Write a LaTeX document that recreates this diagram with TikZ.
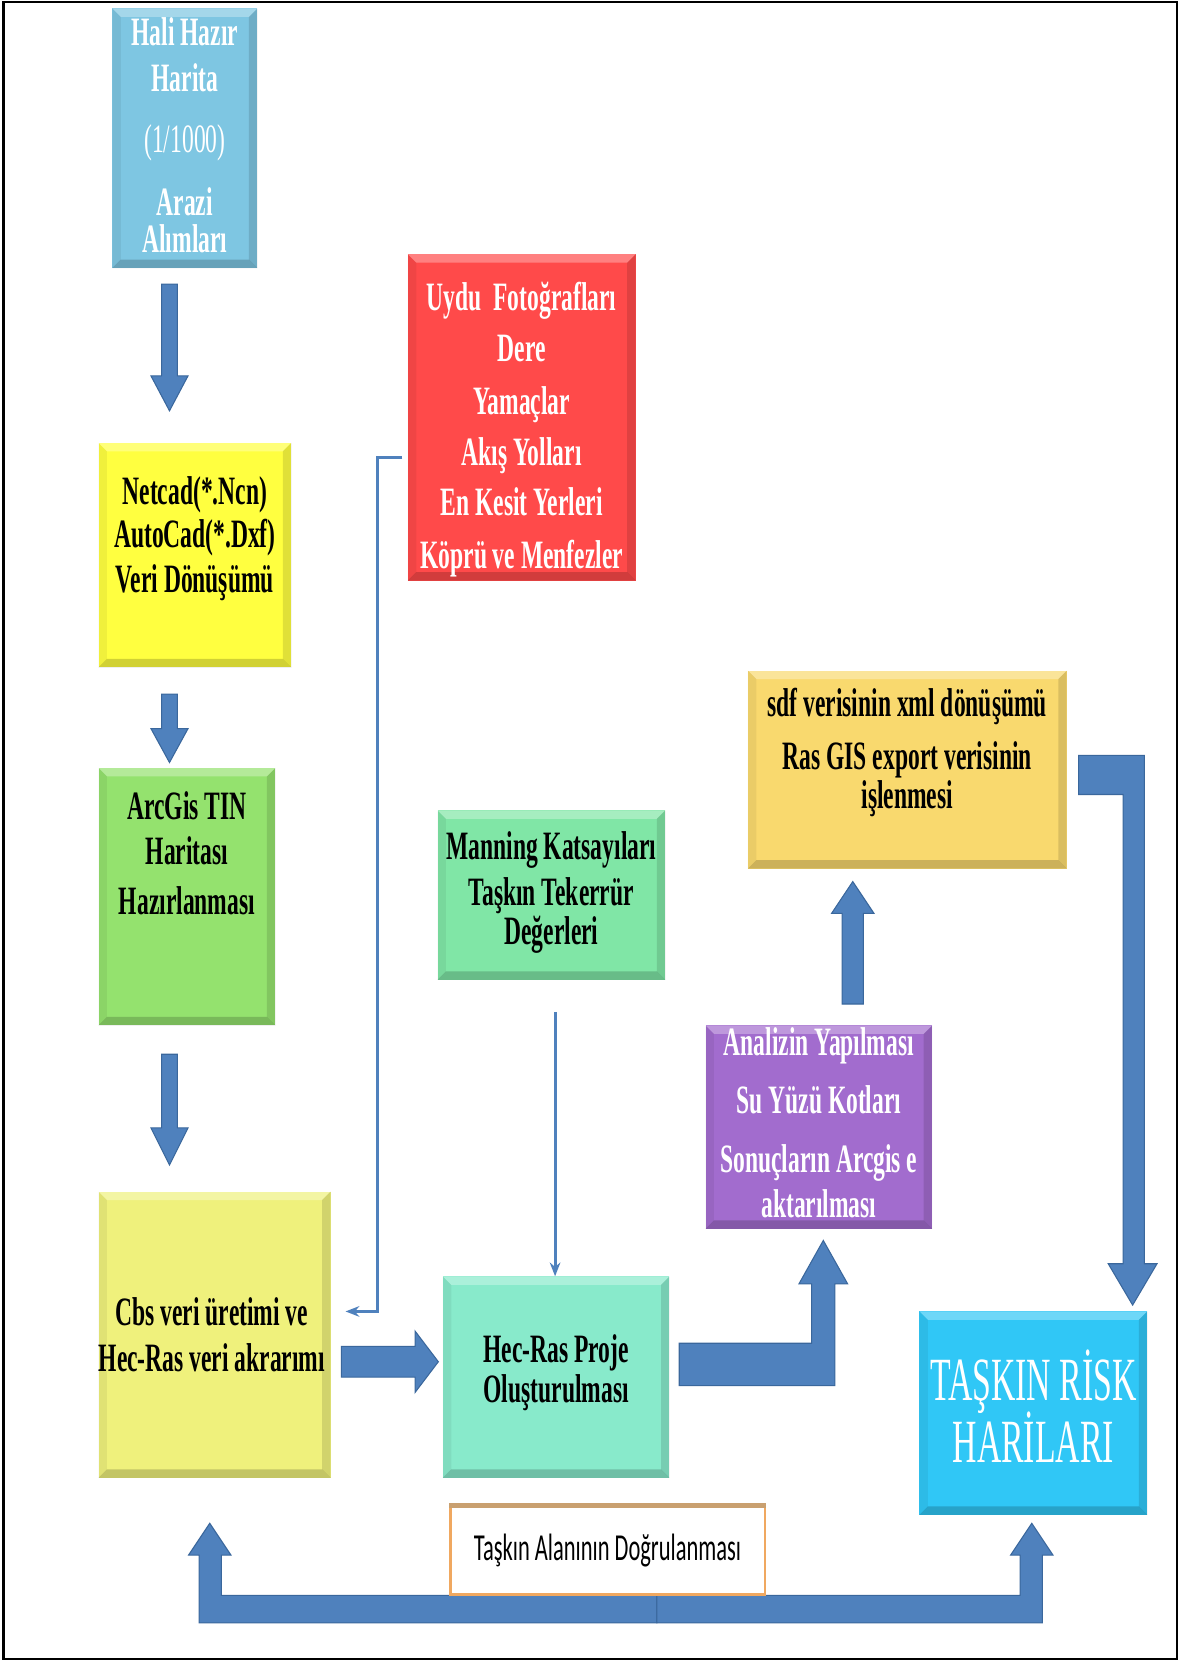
\documentclass[tikz,border=0pt]{standalone}
\usepackage{fontspec}
\setmainfont{Liberation Serif}
\newfontfamily\csf{Liberation Serif}[FakeStretch=0.585]
\newfontfamily\tkf{Liberation Serif}[FakeStretch=0.55]
\newfontfamily\clf{Carlito}[FakeStretch=0.59]
\usetikzlibrary{calc,arrows.meta}
\definecolor{arrowblue}{HTML}{4F81BD}
\definecolor{arrowedge}{HTML}{3A679C}
\definecolor{cblue}{HTML}{7EC6E2}
\definecolor{cyel}{HTML}{FFFF40}
\definecolor{cgreen}{HTML}{94E26E}
\definecolor{ckhaki}{HTML}{EFF17C}
\definecolor{cred}{HTML}{FF4A4A}
\definecolor{cmint}{HTML}{80E6A6}
\definecolor{caqua}{HTML}{88EACB}
\definecolor{cpurp}{HTML}{A26CCE}
\definecolor{corange}{HTML}{F9D96E}
\definecolor{csky}{HTML}{30C7F6}
\definecolor{cborder}{HTML}{F0A860}
\definecolor{cband}{HTML}{C9A070}
\tikzset{
  bevel/.style={path picture={
    \fill[white,opacity=.30] (path picture bounding box.north west) -- (path picture bounding box.north east) -- ([shift={(-8pt,-8pt)}]path picture bounding box.north east) -- ([shift={(8pt,-8pt)}]path picture bounding box.north west) -- cycle;
    \fill[black,opacity=.18] (path picture bounding box.south west) -- (path picture bounding box.south east) -- ([shift={(-8pt,8pt)}]path picture bounding box.south east) -- ([shift={(8pt,8pt)}]path picture bounding box.south west) -- cycle;
    \fill[black,opacity=.06] (path picture bounding box.north west) -- (path picture bounding box.south west) -- ([shift={(8pt,8pt)}]path picture bounding box.south west) -- ([shift={(8pt,-8pt)}]path picture bounding box.north west) -- cycle;
    \fill[black,opacity=.12] (path picture bounding box.north east) -- (path picture bounding box.south east) -- ([shift={(-8pt,8pt)}]path picture bounding box.south east) -- ([shift={(-8pt,-8pt)}]path picture bounding box.north east) -- cycle;
  }},
  box/.style={rectangle, inner sep=0pt, draw=none, fill=#1, bevel},
  dt/.style={anchor=base, inner sep=0pt, text=black, font=\csf\bfseries\fontsize{38}{44}\selectfont},
  wt/.style={dt, text=white},
  wtr/.style={anchor=base, inner sep=0pt, text=white, font=\csf\fontsize{38}{44}\selectfont},
  bigt/.style={anchor=base, inner sep=0pt, text=white, font=\tkf\fontsize{58}{64}\selectfont},
  blk/.style={fill=arrowblue, draw=arrowedge, line width=1pt, line join=miter},
  thinarr/.style={draw=arrowblue, line width=2.8pt, -{Stealth[length=13pt,width=10pt]}},
}
\newcommand\dnblk[5]{\filldraw[blk] ($(#1)+(-#3,0)$) -- ($(#1)+(#3,0)$) -- ($(#2)+(#3,-#5)$) -- ($(#2)+(#4,-#5)$) -- (#2) -- ($(#2)+(-#4,-#5)$) -- ($(#2)+(-#3,-#5)$) -- cycle;}
\newcommand\upblk[5]{\filldraw[blk] ($(#1)+(-#3,0)$) -- ($(#1)+(#3,0)$) -- ($(#2)+(#3,#5)$) -- ($(#2)+(#4,#5)$) -- (#2) -- ($(#2)+(-#4,#5)$) -- ($(#2)+(-#3,#5)$) -- cycle;}
\newcommand\rtblk[5]{\filldraw[blk] ($(#1)+(0,-#3)$) -- ($(#2)+(-#5,-#3)$) -- ($(#2)+(-#5,-#4)$) -- (#2) -- ($(#2)+(-#5,#4)$) -- ($(#2)+(-#5,#3)$) -- ($(#1)+(0,#3)$) -- cycle;}
\begin{document}
\begin{tikzpicture}[x=1pt,y=-1pt]
\useasboundingbox (0,0) rectangle (1113,1568);
\fill[white] (0,0) rectangle (1113,1568);

% ---------- boxes ----------
\node[box=cblue,   minimum width=137pt, minimum height=245pt] (b1) at (174.5,130.5) {};
\node[box=cyel,    minimum width=182pt, minimum height=212pt] (b2) at (184,524) {};
\node[box=cgreen,  minimum width=167pt, minimum height=243pt] (b3) at (176.5,846.5) {};
\node[box=ckhaki,  minimum width=219pt, minimum height=270pt] (b4) at (202.5,1260) {};
\node[box=cred,    minimum width=215pt, minimum height=308pt] (b5) at (492.5,394) {};
\node[box=cmint,   minimum width=215pt, minimum height=160pt] (b6) at (520.5,845) {};
\node[box=caqua,   minimum width=214pt, minimum height=190pt] (b7) at (525,1300) {};
\node[box=cpurp,   minimum width=214pt, minimum height=192pt] (b8) at (773,1064) {};
\node[box=corange, minimum width=301pt, minimum height=187pt] (b9) at (856.5,726.5) {};
\node[box=csky,    minimum width=215pt, minimum height=192pt] (b10) at (975.5,1334) {};

% ---------- bottom double arrow ----------
\begin{scope}[shift={(573.5,1505)}]
\filldraw[blk] (46.5,1) -- (-364.5,1) -- (-364.5,-37) -- (-355.5,-37) -- (-375.5,-67) -- (-395.5,-37) -- (-385.5,-37) -- (-385.5,27) -- (46.5,27) -- cycle;
\filldraw[blk] (46.5,1) -- (389.5,1) -- (389.5,-37) -- (380.5,-37) -- (400.5,-67) -- (420.5,-37) -- (410.5,-37) -- (410.5,27) -- (46.5,27) -- cycle;
\end{scope}
\node[draw=cborder, line width=2.5pt, fill=white, inner sep=0pt, minimum width=297pt, minimum height=85pt] (b11) at (573.5,1462.5) {};
\fill[cband] (b11.north west) rectangle ($(b11.north east)+(0,5)$);

% ---------- straight block arrows ----------
\coordinate (a1s) at ($(b1.south)+(-14.5,15)$);
\coordinate (a1e) at ($(b2.north)+(-24,-30)$);
\dnblk{a1s}{a1e}{7.5}{17.5}{33}
\coordinate (a2s) at ($(b2.south)+(-24,25)$);
\coordinate (a2e) at ($(b3.north)+(-16.5,-5)$);
\dnblk{a2s}{a2e}{7.5}{17.5}{32}
\coordinate (a3s) at ($(b3.south)+(-16.5,27)$);
\coordinate (a3e) at ($(b4.north)+(-42.5,-25)$);
\dnblk{a3s}{a3e}{7.5}{17.5}{35}
\coordinate (a4s) at ($(b4.east)+(10,25.5)$);
\coordinate (a4e) at ($(b7.west)+(-4,-14.5)$);
\rtblk{a4s}{a4e}{14.5}{29}{22}
\coordinate (a6s) at ($(b8.north)+(32,-20)$);
\coordinate (a6e) at ($(b9.south)+(-51.5,12)$);
\upblk{a6s}{a6e}{10}{20}{30}

% ---------- bent block arrows ----------
\begin{scope}[shift={(b7.east)}]
\filldraw[blk] (9,-32) -- (134,-32) -- (134,-88) -- (122,-88) -- (145,-129) -- (168,-88) -- (156,-88) -- (156,8) -- (9,8) -- cycle;
\end{scope}
\begin{scope}[shift={(b9.east)}]
\filldraw[blk] (11,-13.5) -- (73,-13.5) -- (73,466.5) -- (85,466.5) -- (62,505.5) -- (39,466.5) -- (53,466.5) -- (53,23.5) -- (11,23.5) -- cycle;
\end{scope}

% ---------- thin connectors ----------
\coordinate (c1s) at ($(b5.west)+(-5,38)$);
\coordinate (c1e) at ($(b4.east)+(14,-22)$);
\draw[thinarr] (c1s) -- ++(-23,0) coordinate (c1k) -- (c1k |- c1e) -- (c1e);
\coordinate (c2s) at ($(b6.south)+(3.5,30)$);
\draw[thinarr] (c2s) -- (c2s |- b7.north);

% ---------- texts ----------
\node[wt] (t1a) at (174.5,42.5) {Hali Hazır};
\node[wt] (t1b) at (174.5,86.5) {Harita};
\node[wtr] (t1c) at (174.5,143.5) {(1/1000)};
\node[wt] (t1d) at (174.5,203.5) {Arazi};
\node[wt] (t1e) at (174.5,238.5) {Alımları};

\node[dt] (t2a) at (184,476.5) {Netcad(*.Ncn)};
\node[dt] (t2b) at (184,516.5) {AutoCad(*.Dxf)};
\node[dt] (t2c) at (184,559.5) {Veri Dönüşümü};

\node[dt] (t3a) at (176.5,773.5) {ArcGis TIN};
\node[dt] (t3b) at (176.5,816.5) {Haritası};
\node[dt] (t3c) at (176.5,863.5) {Hazırlanması};

\node[dt] (t4a) at (200,1251.5) {Cbs veri üretimi ve};
\node[dt] (t4b) at (200,1294.5) {Hec-Ras veri akrarımı};

\node[wt] (t5a) at (492.5,293.5) {Uydu\ \ Fotoğrafları};
\node[wt] (t5b) at (492.5,341.5) {Dere};
\node[wt] (t5c) at (492.5,391.5) {Yamaçlar};
\node[wt] (t5d) at (492.5,439.5) {Akış Yolları};
\node[wt] (t5e) at (492.5,486.5) {En Kesit Yerleri};
\node[wt] (t5f) at (492.5,536.5) {Köprü ve Menfezler};

\node[dt] (t6a) at (520.5,811.5) {Manning Katsayıları};
\node[dt] (t6b) at (520.5,854.5) {Taşkın Tekerrür};
\node[dt] (t6c) at (520.5,891.5) {Değerleri};

\node[dt] (t7a) at (525,1286.5) {Hec-Ras Proje};
\node[dt] (t7b) at (525,1323.5) {Oluşturulması};

\node[wt] (t8a) at (773,996.5) {Analizin Yapılması};
\node[wt] (t8b) at (773,1051.5) {Su Yüzü Kotları};
\node[wt] (t8c) at (773,1106.5) {Sonuçların Arcgis e};
\node[wt] (t8d) at (773,1149.5) {aktarılması};

\node[dt] (t9a) at (856.5,676.5) {sdf verisinin xml dönüşümü};
\node[dt] (t9b) at (856.5,726.5) {Ras GIS export verisinin};
\node[dt] (t9c) at (856.5,763.5) {işlenmesi};

\node[bigt] (t10a) at (975.5,1322) {TAŞKIN RİSK};
\node[bigt] (t10b) at (975.5,1381) {HARİLARI};

\node[anchor=base, inner sep=0pt, text=black, font=\clf\fontsize{36}{40}\selectfont] (t11) at (573.5,1473) {Taşkın Alanının Doğrulanması};

% ---------- frame ----------
\draw[line width=2.5pt] (3,2) rectangle (1111,1566);
\end{tikzpicture}
\end{document}
